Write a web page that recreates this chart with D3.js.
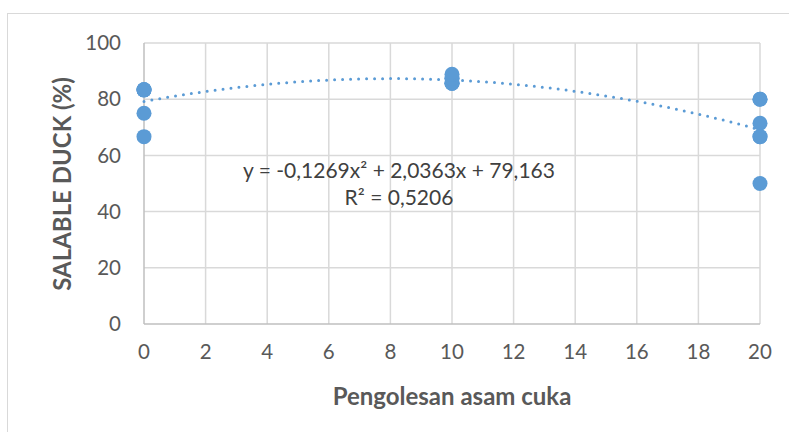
<!DOCTYPE html>
<html>
<head>
<meta charset="utf-8">
<script src="https://cdn.jsdelivr.net/npm/d3@7"></script>
<style>
  body { margin: 0; background: #fff; }
  svg { display: block; font-family: Lato, 'Open Sans', sans-serif; }
  .tick-label { fill: #595959; font-size: 20.5px; }
  .axis-title { fill: #595959; font-size: 24px; font-weight: bold; }
  .eq { fill: #404040; font-size: 21px; }
</style>
</head>
<body>
<svg id="chart" width="789" height="432"></svg>
<script>
const doseX = [0, 0, 0, 0, 0, 0, 10, 10, 10, 10, 10, 10, 20, 20, 20, 20, 20, 20]
const salable = [83.33, 83.33, 83.33, 83.33, 75, 66.67, 85.71, 85.71, 85.71, 87.5, 87.5, 88.89, 80, 80, 71.43, 66.67, 66.67, 50]

// polynomial trendline (order 2) as printed on the chart
const trendCoef = [79.163, 2.0363, -0.1269]
const eqLines = ['y = -0,1269x² + 2,0363x + 79,163', 'R² = 0,5206']

const xTicks = [0, 2, 4, 6, 8, 10, 12, 14, 16, 18, 20]
const yTicks = [0, 20, 40, 60, 80, 100]

const svg = d3.select('#chart')
const margin = { left: 144, top: 43, right: 29, bottom: 108 }
const W = 789, H = 432

const x = d3.scaleLinear().domain([0, 20]).range([margin.left, W - margin.right])
const y = d3.scaleLinear().domain([0, 100]).range([H - margin.bottom, margin.top])

// chart frame
svg.append('rect')
	.attr('x', 7.5).attr('y', 13.5)
	.attr('width', 820).attr('height', 460)
	.attr('fill', 'none').attr('stroke', '#d9d9d9')

// grid
svg.append('g').selectAll('line')
	.data(yTicks.filter(d => d > 0))
	.enter().append('line')
	.attr('x1', x(0)).attr('x2', x(20))
	.attr('y1', d => y(d)).attr('y2', d => y(d))
	.attr('stroke', '#d9d9d9').attr('stroke-width', 1.5)

svg.append('g').selectAll('line')
	.data(xTicks.filter(d => d > 0))
	.enter().append('line')
	.attr('x1', d => x(d)).attr('x2', d => x(d))
	.attr('y1', y(0)).attr('y2', y(100))
	.attr('stroke', '#d9d9d9').attr('stroke-width', 1.5)

// axis lines
svg.append('line')
	.attr('x1', x(0)).attr('x2', x(0)).attr('y1', y(0)).attr('y2', y(100))
	.attr('stroke', '#bfbfbf').attr('stroke-width', 1.5)
svg.append('line')
	.attr('x1', x(0)).attr('x2', x(20)).attr('y1', y(0)).attr('y2', y(0))
	.attr('stroke', '#bfbfbf').attr('stroke-width', 1.5)

// tick labels
svg.append('g').selectAll('text')
	.data(yTicks)
	.enter().append('text')
	.attr('class', 'tick-label')
	.attr('x', 121).attr('y', d => y(d))
	.attr('dy', '0.35em')
	.attr('text-anchor', 'end')
	.text(d => d)

svg.append('g').selectAll('text')
	.data(xTicks)
	.enter().append('text')
	.attr('class', 'tick-label')
	.attr('x', d => x(d)).attr('y', 352)
	.attr('dy', '0.35em')
	.attr('text-anchor', 'middle')
	.text(d => d)

// axis titles
svg.append('text')
	.attr('class', 'axis-title')
	.attr('x', (x(0) + x(20)) / 2).attr('y', 397)
	.attr('dy', '0.35em')
	.attr('text-anchor', 'middle')
	.text('Pengolesan asam cuka')

svg.append('text')
	.attr('class', 'axis-title')
	.attr('transform', 'translate(63,' + 184 + ') rotate(-90)')
	.attr('dy', '0.35em')
	.attr('text-anchor', 'middle')
	.text('SALABLE DUCK (%)')

// points
const pts = doseX.map((d, i) => ({ x: d, y: salable[i] }))
svg.append('g').selectAll('circle')
	.data(pts)
	.enter().append('circle')
	.attr('cx', d => x(d.x)).attr('cy', d => y(d.y))
	.attr('r', 7.5)
	.attr('fill', '#5b9bd5')

// trendline
const trendX = d3.range(0, 20.01, 0.25)
const trend = d3.line()
	.x(d => x(d))
	.y(d => y(trendCoef[0] + trendCoef[1] * d + trendCoef[2] * d * d))
svg.append('path')
	.attr('d', trend(trendX))
	.attr('fill', 'none')
	.attr('stroke', '#5b9bd5')
	.attr('stroke-width', 3)
	.attr('stroke-linecap', 'round')
	.attr('stroke-dasharray', '0,8')

// equation label
svg.append('g').selectAll('text')
	.data(eqLines)
	.enter().append('text')
	.attr('class', 'eq')
	.attr('x', 399).attr('y', (d, i) => 178 + i * 27)
	.attr('text-anchor', 'middle')
	.text(d => d)
</script>
</body>
</html>
